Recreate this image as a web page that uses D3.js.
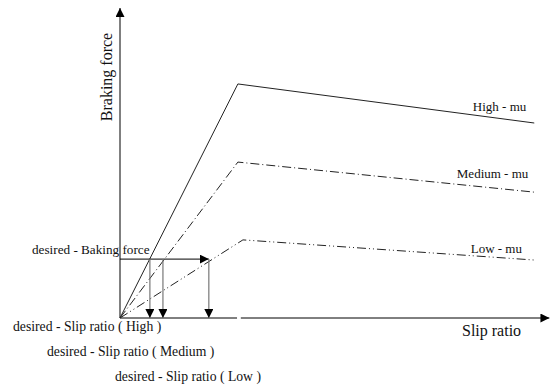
<!DOCTYPE html>
<html>
<head>
<meta charset="utf-8">
<script src="https://cdn.jsdelivr.net/npm/d3@7"></script>
<style>
  html, body { margin: 0; padding: 0; background: #fff; }
  svg { display: block; }
</style>
</head>
<body>
<svg id="chart" width="551" height="385"></svg>
<script>
// ---- data (slip ratio 0..1, braking force 0..1) ----
const seriesNames = ["High - mu", "Medium - mu", "Low - mu"];
const highMu   = [[0, 0], [0.280, 0.755], [0.984, 0.629]];
const mediumMu = [[0, 0], [0.280, 0.503], [0.984, 0.406]];
const lowMu    = [[0, 0], [0.292, 0.252], [0.984, 0.187]];
const desiredForce = 0.190;
const desiredSlips = [0.071, 0.102, 0.211];
const desiredSlipLabels = ["desired - Slip ratio ( High )", "desired - Slip ratio ( Medium )", "desired - Slip ratio ( Low )"];
const labelAnchors = [[0.838, 0.668], [0.800, 0.452], [0.833, 0.210]];
const xTitle = "Slip ratio";
const yTitle = "Braking force";
const forceLabel = "desired - Baking force";
const axisMaxX = 1.02;
const axisMaxY = 1.0;

const FONT = "'Liberation Serif', 'DejaVu Serif', serif";
const svg = d3.select("#chart").attr("font-family", FONT);
const x = d3.scaleLinear().domain([0, 1]).range([120, 541]);
const y = d3.scaleLinear().domain([0, 1]).range([318, 8]);

const defs = svg.append("defs");
defs.append("marker").attr("id", "arrowBlack")
  .attr("viewBox", "0 0 10 10").attr("refX", 10).attr("refY", 5)
  .attr("markerWidth", 9).attr("markerHeight", 9)
  .attr("markerUnits", "userSpaceOnUse")
  .attr("orient", "auto")
  .append("path").attr("d", "M0,0 L10,5 L0,10 Z").attr("fill", "#000");

// axes
svg.append("line")
  .attr("x1", x(0)).attr("y1", y(0)).attr("x2", x(0)).attr("y2", y(axisMaxY))
  .attr("stroke", "#000").attr("stroke-width", 1).attr("marker-end", "url(#arrowBlack)");
svg.append("line")
  .attr("x1", x(0)).attr("y1", y(0)).attr("x2", x(0.278)).attr("y2", y(0))
  .attr("stroke", "#000").attr("stroke-width", 1);
svg.append("line")
  .attr("x1", x(0.287)).attr("y1", y(0)).attr("x2", x(axisMaxX)).attr("y2", y(0))
  .attr("stroke", "#000").attr("stroke-width", 1).attr("marker-end", "url(#arrowBlack)");

// curves
const line = d3.line().x(d => x(d[0])).y(d => y(d[1]));
const curves = [
  {data: highMu, dash: null},
  {data: mediumMu, dash: "9,3,1,3"},
  {data: lowMu, dash: "9,3,1,3,1,3"}
];
curves.forEach(c => {
  svg.append("path").attr("d", line(c.data))
    .attr("fill", "none").attr("stroke", "#222").attr("stroke-width", 1)
    .attr("stroke-dasharray", c.dash);
});

// series labels
seriesNames.forEach((name, i) => {
  svg.append("text").attr("x", x(labelAnchors[i][0])).attr("y", y(labelAnchors[i][1]))
    .attr("font-family", FONT).attr("font-size", 13).attr("fill", "#111").text(name);
});

// desired force arrow (horizontal)
svg.append("line")
  .attr("x1", x(0)).attr("y1", y(desiredForce))
  .attr("x2", x(desiredSlips[2])).attr("y2", y(desiredForce))
  .attr("stroke", "#000").attr("stroke-width", 1).attr("marker-end", "url(#arrowBlack)");

// vertical arrows
desiredSlips.forEach(s => {
  svg.append("line")
    .attr("x1", x(s)).attr("y1", y(desiredForce))
    .attr("x2", x(s)).attr("y2", y(0))
    .attr("stroke", "#777").attr("stroke-width", 1.2).attr("marker-end", "url(#arrowBlack)");
});

// titles
svg.append("text").attr("transform", "translate(112,77) rotate(-90)")
  .attr("text-anchor", "middle").attr("font-family", FONT).attr("font-size", 16)
  .attr("fill", "#111").text(yTitle);
svg.append("text").attr("x", 462).attr("y", 336).attr("font-family", FONT)
  .attr("font-size", 16).attr("fill", "#111").text(xTitle);

svg.append("text").attr("x", 32).attr("y", 254).attr("font-family", FONT)
  .attr("font-size", 13.2).attr("fill", "#111").text(forceLabel);
const slipLabelPos = [[13, 331], [47, 356], [115, 381]];
desiredSlipLabels.forEach((t, i) => {
  svg.append("text").attr("x", slipLabelPos[i][0]).attr("y", slipLabelPos[i][1])
    .attr("font-family", FONT).attr("font-size", 13.7).attr("fill", "#111").text(t);
});
</script>
</body>
</html>
